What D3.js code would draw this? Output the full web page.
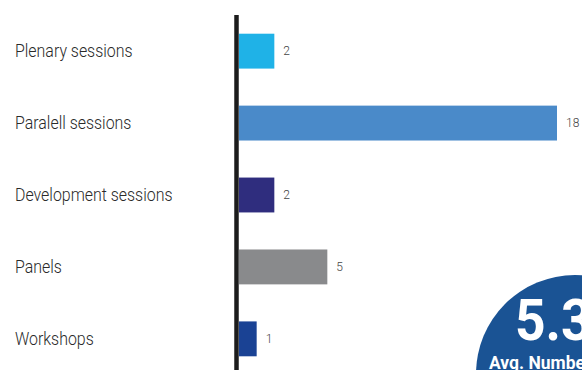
<!DOCTYPE html>
<html>
<head>
<meta charset="utf-8">
<script src="https://cdn.jsdelivr.net/npm/d3@7"></script>
<style>
  body { margin: 0; background: #fff; }
  svg { display: block; }
</style>
</head>
<body>
<div id="svg-container"></div>
<script>
var categories = ["Plenary sessions", "Paralell sessions", "Development sessions", "Panels", "Workshops"];
var values = [2, 18, 2, 5, 1];
var barColors = ["#1fb2e7", "#4a8ac9", "#2f2d7e", "#898a8c", "#1a4294"];
var avgValue = "5.3";
var avgLabel = "Avg. Number";

var width = 582,
    height = 370;

var svg = d3.select("#svg-container")
  .append("svg")
    .attr("width", width)
    .attr("height", height)
    .attr("font-family", "Roboto, sans-serif");

var x = d3.scaleLinear()
    .domain([0, 18])
    .range([239, 557]);

var y = d3.scaleBand()
    .domain(categories)
    .range([15, 375])
    .paddingInner(0.515)
    .paddingOuter(0.26);

// bars
svg.selectAll(".bar")
  .data(categories)
  .enter().append("rect")
    .attr("class", "bar")
    .attr("x", x(0))
    .attr("y", function(d) { return y(d); })
    .attr("width", function(d, i) { return x(values[i]) - x(0); })
    .attr("height", y.bandwidth())
    .style("fill", function(d, i) { return barColors[i]; });

// value labels
svg.selectAll(".val")
  .data(categories)
  .enter().append("text")
    .attr("class", "val")
    .attr("x", function(d, i) { return x(values[i]) + 9; })
    .attr("y", function(d) { return y(d) + y.bandwidth() / 2; })
    .attr("dy", ".35em")
    .attr("font-size", 12)
    .attr("font-weight", 300)
    .style("fill", "#444")
    .text(function(d, i) { return values[i]; });

// category labels
svg.selectAll(".cat")
  .data(categories)
  .enter().append("text")
    .attr("class", "cat")
    .attr("transform", function(d) { return "translate(15," + (y(d) + y.bandwidth() / 2) + ") scale(0.91,1)"; })
    .attr("dy", ".35em")
    .attr("font-size", 17.5)
    .attr("font-weight", 300)
    .style("fill", "#2a2a2a")
    .text(function(d) { return d; });

// axis line
svg.append("line")
    .attr("x1", 236.5).attr("x2", 236.5)
    .attr("y1", 15).attr("y2", height)
    .style("stroke", "#1c1c1c")
    .style("stroke-width", 4.5);

// average badge
var badge = svg.append("g");
badge.append("circle")
    .attr("cx", 575)
    .attr("cy", 374)
    .attr("r", 99)
    .style("fill", "#1a5394");
badge.append("text")
    .attr("x", 515)
    .attr("y", 340)
    .attr("font-size", 58)
    .attr("font-weight", 700)
    .attr("transform", "translate(515,0) scale(0.92,1) translate(-515,0)")
    .style("fill", "#fff")
    .text(avgValue);
badge.append("text")
    .attr("x", 489)
    .attr("y", 369)
    .attr("font-size", 19)
    .attr("font-weight", 700)
    .attr("transform", "translate(489,0) scale(0.92,1) translate(-489,0)")
    .style("fill", "#fff")
    .text(avgLabel);
</script>
</body>
</html>
